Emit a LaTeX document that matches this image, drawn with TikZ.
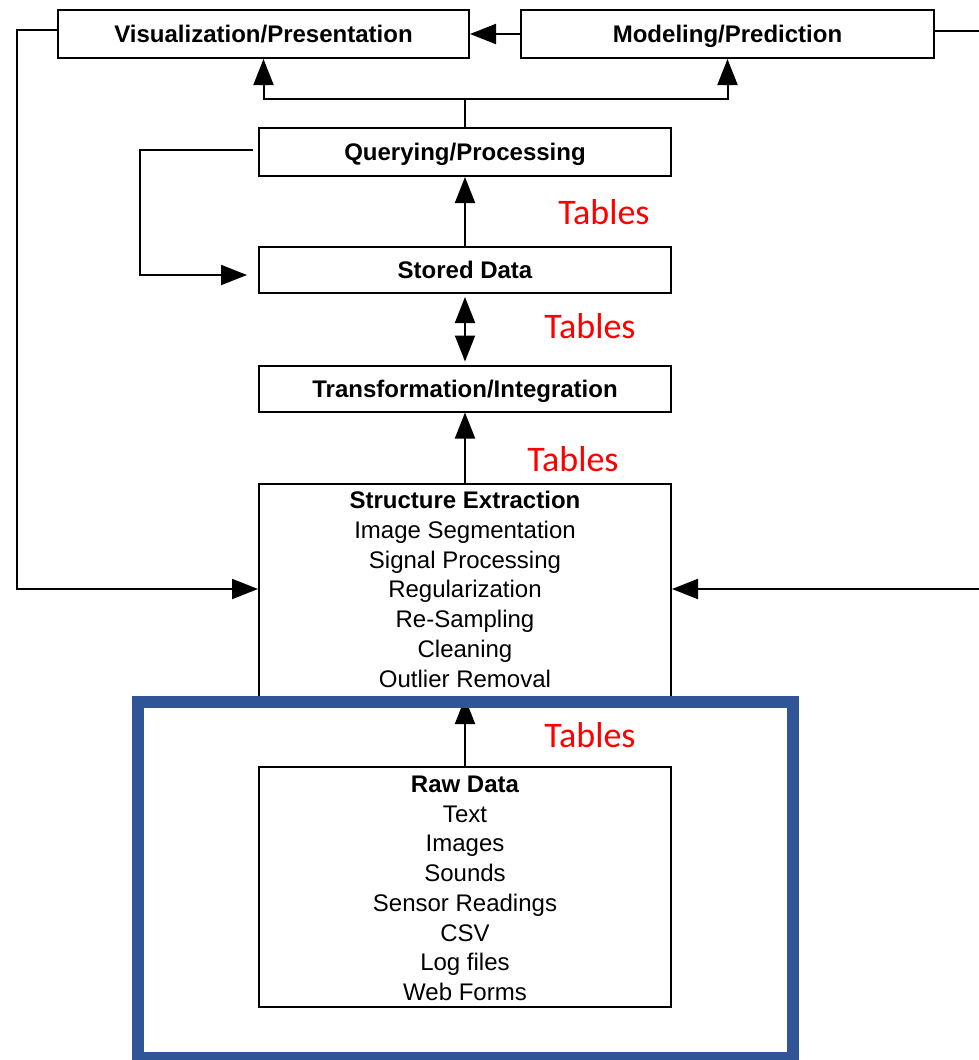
\documentclass[tikz,border=0pt]{standalone}
\usepackage{fontspec}
\setmainfont{Liberation Sans}
\newfontfamily\tabfont{Carlito}
\usetikzlibrary{arrows.meta,calc}
\definecolor{frameblue}{RGB}{47,85,151}
\begin{document}
\begin{tikzpicture}[x=1pt,y=-1pt,
  box/.style={draw, line width=2pt, fill=white, minimum width=412pt, inner sep=0pt,
    font=\fontsize{24}{29.7}\selectfont\bfseries, text height=17pt, text depth=0pt},
  conn/.style={line width=2pt, line join=miter, -{Triangle[length=26pt,width=20pt]}},
  plain/.style={line width=2pt, line join=miter},
  tbl/.style={text=red, font=\tabfont\fontsize{36}{36}\selectfont, inner sep=0pt, text height=23pt, text depth=0pt},
  lbl/.style={inner sep=0pt, font=\fontsize{24}{29.7}\selectfont, anchor=base},
  blbl/.style={lbl, font=\fontsize{24}{29.7}\selectfont\bfseries}
]
\useasboundingbox (0,0) rectangle (979,1060);

% boxes
\node[box, minimum width=411pt, minimum height=48pt] (viz) at (263.5,34) {Visualization/Presentation};
\node[box, minimum width=413pt, minimum height=48pt] (mod) at (727.5,34) {Modeling/Prediction};
\node[box, minimum height=48pt] (qry) at (465,152) {Querying/Processing};
\node[box, minimum height=46pt] (sto) at (465,270) {Stored Data};
\node[box, minimum height=46pt] (trf) at (465,388.5) {Transformation/Integration};
\node[box, minimum height=213pt] (se) at (465,590.5) {};
\node[box, minimum height=240pt] (raw) at (465,887) {};

% box contents
\node[blbl] (setitle) at (465,508.5) {Structure Extraction};
\foreach [count=\i from 1] \t in {Image Segmentation, Signal Processing, Regularization, Re-Sampling, Cleaning, Outlier Removal}
  \node[lbl] (se\i) at (465,{508.5+29.8*\i}) {\t};
\node[blbl] (rawtitle) at (465,792.5) {Raw Data};
\foreach [count=\i from 1] \t in {Text, Images, Sounds, Sensor Readings, CSV, Log files, Web Forms}
  \node[lbl] (raw\i) at (465,{792.5+29.7*\i}) {\t};

% Tables labels
\node[tbl] (t1) at (604,213) {Tables};
\node[tbl] (t2) at (590,327) {Tables};
\node[tbl] (t3) at (573,460) {Tables};
\node[tbl] (t4) at (590,736) {Tables};

% connectors
\coordinate (j) at (465,99);
\coordinate (l2) at (17,589);
\coordinate (r2) at (983,589);
\coordinate (q2) at (140,275);

\draw[conn] (mod.west) -- (viz.east);
\draw[plain] (qry.north) -- (j);
\draw[conn] (j) -| (viz.south);
\draw[conn] (j) -| (mod.south);
\draw[conn] ([yshift=4pt]viz.west) -| (l2) -- (se.west |- l2);
\draw[conn] ([yshift=3pt]mod.east) -| (r2) -- (se.east |- r2);
\draw[conn] ([xshift=-5pt,yshift=2pt]qry.west) -| (q2) -- ([xshift=-11pt]sto.west |- q2);
\draw[conn] (sto.north) -- (qry.south);
\draw[line width=2pt, {Triangle[length=26pt,width=20pt]}-{Triangle[length=26pt,width=20pt]}, shorten <=3pt, shorten >=3pt] (sto.south) -- (trf.north);
\draw[conn] (se.north) -- (trf.south);
\draw[conn] (raw.north) -- (se.south);

% blue frame
\node[draw=frameblue, line width=12pt, minimum width=655.5pt, minimum height=356pt, inner sep=0pt] (frame) at (465.25,880) {};
\end{tikzpicture}
\end{document}
